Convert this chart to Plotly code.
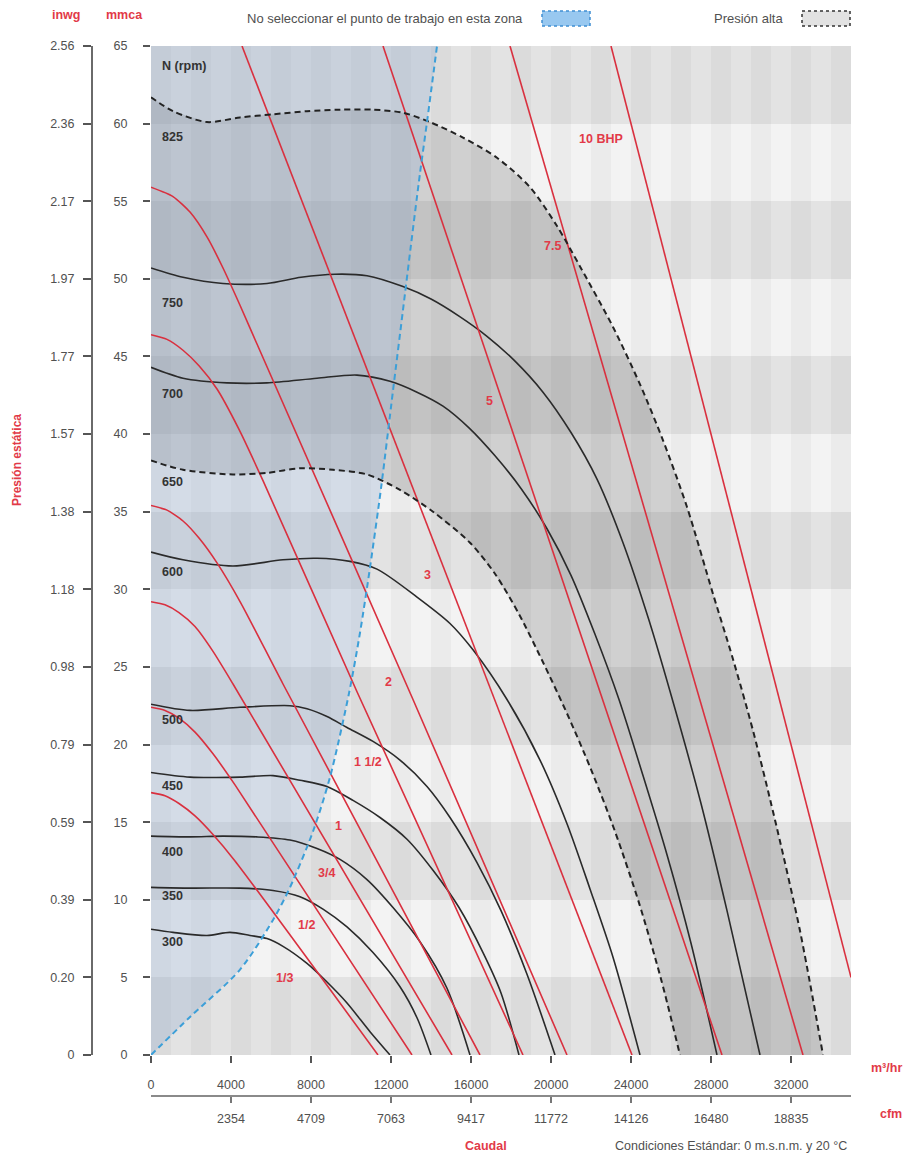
import numpy as np
import plotly.graph_objects as go

# ---------------- axis ticks ----------------
mmca_ticks = [0, 5, 10, 15, 20, 25, 30, 35, 40, 45, 50, 55, 60, 65]
inwg_labels = ["0", "0.20", "0.39", "0.59", "0.79", "0.98", "1.18", "1.38",
               "1.57", "1.77", "1.97", "2.17", "2.36", "2.56"]
flow_ticks = [0, 4000, 8000, 12000, 16000, 20000, 24000, 28000, 32000]
flow_labels = ["0", "4000", "8000", "12000", "16000", "20000", "24000", "28000", "32000"]
cfm_ticks = [4000, 8000, 12000, 16000, 20000, 24000, 28000, 32000]
cfm_labels = ["2354", "4709", "7063", "9417", "11772", "14126", "16480", "18835"]

# ---------------- fan curves: flow (m3/h) vs static pressure (mmca) ----------------
q_300 = [0, 1100, 2800, 3950, 4950, 5800, 6600, 7800, 8800, 9800, 10950, 11950]
p_300 = [8.1, 7.9, 7.7, 7.9, 7.7, 7.5, 7.0, 5.9, 4.7, 3.35, 1.5, 0]

q_350 = [0, 2000, 4450, 6100, 7450, 8600, 9800, 11100, 12450, 13300, 14000]
p_350 = [10.8, 10.75, 10.75, 10.6, 10.2, 9.4, 8.25, 6.6, 4.4, 2.4, 0]

q_400 = [0, 1950, 3600, 5300, 6950, 8300, 9450, 10800, 12100, 13450, 14800, 15950]
p_400 = [14.1, 14.05, 14.1, 14.05, 13.85, 13.3, 12.6, 11.3, 9.5, 7.3, 4.3, 0]

q_450 = [0, 1950, 4450, 6100, 7450, 8800, 10100, 11450, 12800, 14100, 15400, 16600, 17500, 18400]
p_450 = [18.2, 17.9, 17.9, 18.0, 17.7, 17.3, 16.4, 15.3, 13.9, 11.9, 9.5, 6.6, 4.0, 0]

q_500 = [0, 1950, 4450, 6950, 7800, 8800, 9800, 11100, 12450, 13800, 14950, 16300, 17500, 18800, 20200]
p_500 = [22.6, 22.2, 22.4, 22.5, 22.3, 21.8, 21.1, 20.2, 19.0, 17.3, 15.3, 12.4, 9.3, 5.2, 0]

q_600 = [0, 1600, 4100, 6600, 8300, 9950, 11300, 13300, 14950, 16100, 17800, 19450,
         20800, 21950, 23100, 24450]
p_600 = [32.4, 31.9, 31.5, 31.9, 32.0, 31.8, 31.3, 29.5, 27.8, 26.1, 22.9, 19.0,
         14.9, 10.7, 6.3, 0]

q_700 = [0, 1600, 3800, 5800, 8300, 10300, 11950, 13300, 14600, 15900, 17200, 18500,
         19800, 21000, 22200, 23400, 24600, 25800, 27000, 28300]
p_700 = [44.3, 43.6, 43.3, 43.3, 43.6, 43.8, 43.4, 42.7, 41.8, 40.4, 38.6, 36.5,
         33.9, 30.9, 27.1, 22.9, 18.0, 12.9, 7.2, 0]

q_750 = [0, 1600, 3600, 5800, 7500, 9200, 10800, 12600, 14000, 15400, 16800, 18200,
         19600, 21000, 22300, 23600, 24900, 26200, 27500, 28800, 30450]
p_750 = [50.7, 50.1, 49.7, 49.7, 50.1, 50.3, 50.2, 49.5, 48.7, 47.6, 46.3, 44.7,
         42.7, 40.1, 37.1, 33.0, 28.0, 22.3, 16.2, 9.3, 0]

# high-pressure zone limits (650 rpm below, 825 rpm above)
q_650 = [0, 1600, 4100, 5800, 7450, 9100, 10800, 12450, 14100, 15950, 17200, 18400,
         19600, 20800, 22000, 23200, 24400, 25500, 26450]
p_650 = [38.3, 37.7, 37.4, 37.5, 37.8, 37.7, 37.4, 36.4, 35.0, 33.0, 31.0, 28.4,
         25.3, 22.0, 18.4, 14.4, 9.8, 4.9, 0]

q_825 = [0, 1100, 2800, 4450, 6100, 7800, 9450, 11100, 12600, 13950, 15600, 17300,
         18950, 20300, 21450, 23100, 24450, 25600, 26800, 28100, 29100, 30100, 31300,
         32450, 33600]
p_825 = [61.7, 60.8, 60.1, 60.4, 60.6, 60.8, 60.9, 60.9, 60.7, 60.1, 59.1, 57.8,
         55.9, 53.4, 50.8, 46.9, 43.2, 39.6, 35.3, 29.7, 25.5, 20.9, 14.6, 8.0, 0]

# limit of the "do not select" zone
q_zone = [0, 1950, 4450, 6100, 6950, 8100, 8950, 9900, 10450, 10950, 11500, 12100,
          12600, 13000, 13450, 13800, 14300]
p_zone = [0, 2.45, 5.5, 8.7, 10.8, 14.4, 17.9, 23.3, 27.2, 31.4, 36.5, 42.8,
          48.0, 52.2, 56.8, 60.1, 65]

# ---------------- power lines (BHP) ----------------
bhp_labels = ["1/3", "1/2", "3/4", "1", "1 1/2", "2", "3", "5", "7.5", "10 BHP"]
q_bhp_1_3 = [0, 700, 1400, 2200, 3100, 4200, 11350]
p_bhp_1_3 = [16.9, 16.7, 16.2, 15.4, 14.2, 12.5, 0]
q_bhp_1_2 = [0, 700, 1400, 2200, 3100, 4200, 13050]
p_bhp_1_2 = [22.4, 22.2, 21.7, 20.8, 19.4, 17.4, 0]
q_bhp_3_4 = [0, 700, 1400, 2200, 3100, 4100, 15050]
p_bhp_3_4 = [29.2, 29.0, 28.5, 27.6, 26.0, 23.9, 0]
q_bhp_1 = [0, 800, 1600, 2400, 3300, 4500, 6600, 16450]
p_bhp_1 = [35.4, 35.1, 34.4, 33.3, 31.7, 29.1, 23.9, 0]
q_bhp_1_5 = [0, 800, 1600, 2400, 3300, 4400, 5600, 10300, 18600]
p_bhp_1_5 = [46.4, 46.1, 45.4, 44.4, 42.9, 40.3, 37.0, 23.4, 0]
q_bhp_2 = [0, 1100, 1950, 2800, 3600, 4450, 5300, 13100, 20800]
p_bhp_2 = [55.9, 55.3, 54.3, 52.7, 50.7, 48.3, 45.8, 22.9, 0]
q_bhp_3 = [4550, 24050]
p_bhp_3 = [65, 0]
q_bhp_5 = [11600, 28550]
p_bhp_5 = [65, 0]
q_bhp_7_5 = [17950, 32600]
p_bhp_7_5 = [65, 0]
q_bhp_10 = [23000, 35000]
p_bhp_10 = [65, 5.0]

rpm_values = [300, 350, 400, 450, 500, 600, 700, 750]
fan_curves = [(q_300, p_300), (q_350, p_350), (q_400, p_400), (q_450, p_450),
              (q_500, p_500), (q_600, p_600), (q_700, p_700), (q_750, p_750)]
bhp_lines = [(q_bhp_1_3, p_bhp_1_3), (q_bhp_1_2, p_bhp_1_2), (q_bhp_3_4, p_bhp_3_4),
             (q_bhp_1, p_bhp_1), (q_bhp_1_5, p_bhp_1_5), (q_bhp_2, p_bhp_2),
             (q_bhp_3, p_bhp_3), (q_bhp_5, p_bhp_5), (q_bhp_7_5, p_bhp_7_5),
             (q_bhp_10, p_bhp_10)]

# ---------------- page geometry ----------------
W, H = 915, 1157
ML, MR, MT, MB = 40, 64, 46, 61
PW, PH = W - ML - MR, H - MT - MB


def fx(xp):
    return (xp - ML) / PW


def fy(yp):
    return (H - MB - yp) / PH


FONT = "Liberation Sans, Arial, sans-serif"
RED_TXT = "#e23a48"
RED_LINE = "#d9303f"
GRAY_TXT = "#505050"
X_MAX, Y_MAX = 35000, 65

fig = go.Figure()

# checkered background: 1000 m3/h columns x 5 mmca rows
xc = np.arange(500, X_MAX, 1000)
yc = np.arange(2.5, Y_MAX, 5)
zc = [[2 * (k % 2 == 0) + (j % 2 == 0) for j in range(len(xc))] for k in range(len(yc))]
fig.add_trace(go.Heatmap(
    x=xc, y=yc, z=zc, zmin=0, zmax=3, showscale=False, hoverinfo="skip",
    colorscale=[[0, "rgb(243,243,243)"], [1 / 3, "rgb(235,235,235)"],
                [2 / 3, "rgb(227,227,227)"], [1, "rgb(219,219,219)"]]))

# high pressure zone (between 650 and 825 rpm)
fig.add_trace(go.Scatter(
    x=q_825 + q_650[::-1], y=p_825 + p_650[::-1], fill="toself",
    fillcolor="rgba(0,0,0,0.14)", line=dict(width=0),
    mode="lines", hoverinfo="skip", showlegend=False))

# do-not-select zone
fig.add_trace(go.Scatter(
    x=q_zone + [0], y=p_zone + [Y_MAX], fill="toself",
    fillcolor="rgba(152,176,207,0.34)", line=dict(width=0), mode="lines",
    hoverinfo="skip", showlegend=False))

# fan curves
for (q, p) in fan_curves:
    fig.add_trace(go.Scatter(x=q, y=p, mode="lines", showlegend=False, hoverinfo="skip",
                             line=dict(color="#2a2a2a", width=1.6, shape="spline", smoothing=0.8)))

# power lines
for (q, p) in bhp_lines:
    fig.add_trace(go.Scatter(x=q, y=p, mode="lines", showlegend=False, hoverinfo="skip",
                             line=dict(color=RED_LINE, width=1.6, shape="spline", smoothing=0.6)))

# dashed limits of the high pressure zone
for (q, p) in [(q_650, p_650), (q_825, p_825)]:
    fig.add_trace(go.Scatter(x=q, y=p, mode="lines", showlegend=False, hoverinfo="skip",
                             line=dict(color="#222222", width=2, dash="6px,4px",
                                       shape="spline", smoothing=0.8)))

# dashed limit of the do-not-select zone
fig.add_trace(go.Scatter(x=q_zone, y=p_zone, mode="lines", showlegend=False, hoverinfo="skip",
                         line=dict(color="#3c9fd8", width=2, dash="6px,4px",
                                   shape="spline", smoothing=0.8)))

# secondary axes carrier
fig.add_trace(go.Scatter(x=[None], y=[None], xaxis="x2", yaxis="y2",
                         showlegend=False, hoverinfo="skip"))

annotations = []


def ann(text, x, y, color=GRAY_TXT, size=12.5, bold=False, xanchor="center",
        yanchor="middle", angle=0, ref="paper"):
    t = f"<b>{text}</b>" if bold else text
    if ref == "paper":
        annotations.append(dict(text=t, x=fx(x), y=fy(y), xref="paper", yref="paper",
                                showarrow=False, xanchor=xanchor, yanchor=yanchor,
                                textangle=angle, font=dict(family=FONT, size=size, color=color)))
    else:
        annotations.append(dict(text=t, x=x, y=y, xref="x", yref="y",
                                showarrow=False, xanchor=xanchor, yanchor=yanchor,
                                textangle=angle, font=dict(family=FONT, size=size, color=color)))


# rpm labels
rpm_label_y = {825: 59.15, 750: 48.45, 700: 42.6, 650: 36.9, 600: 31.1,
               500: 21.6, 450: 17.3, 400: 13.1, 350: 10.25, 300: 7.3}
for rpm, yv in rpm_label_y.items():
    ann(str(rpm), 450, yv, color="#333333", size=12.5, bold=True, xanchor="left", ref="data")
ann("N (rpm)", 450, 63.7, color="#333333", size=12.5, bold=True, xanchor="left", ref="data")

# BHP labels
bhp_label_pos = [(6650, 4.95), (7750, 8.4), (8750, 11.7), (9350, 14.75), (10850, 18.9),
                 (11850, 24.0), (13800, 30.9), (16900, 42.1), (20050, 52.1), (22500, 59.0)]
for txt, (qx, py) in zip(bhp_labels, bhp_label_pos):
    ann(txt, qx, py, color=RED_TXT, size=12.5, bold=True, ref="data")

# headers and titles
ann("inwg", 66, 15, color=RED_TXT, bold=True)
ann("mmca", 124, 15, color=RED_TXT, bold=True)
ann("Presión estática", 17, 460, color=RED_TXT, size=12, bold=True, angle=-90)
ann("No seleccionar el punto de trabajo en esta zona", 525, 18, size=13, xanchor="right")
ann("Presión alta", 785, 18, size=13, xanchor="right")
ann("m³/hr", 887, 1068, color=RED_TXT, bold=True)
ann("cfm", 891, 1114, color=RED_TXT, bold=True)
ann("Caudal", 486, 1146, color=RED_TXT, bold=True)
ann("Condiciones Estándar: 0 m.s.n.m. y 20 °C", 849, 1146, size=12.5, xanchor="right")

shapes = [
    dict(type="rect", xref="paper", yref="paper", x0=fx(542), x1=fx(590), y0=fy(26), y1=fy(11),
         fillcolor="#98c8f0", line=dict(color="#3f8ed2", width=1.5, dash="dot")),
    dict(type="rect", xref="paper", yref="paper", x0=fx(802), x1=fx(850), y0=fy(26), y1=fy(11),
         fillcolor="#e2e2e2", line=dict(color="#333333", width=1.5, dash="dot")),
]

tickfont = dict(family=FONT, size=12.5, color=GRAY_TXT)
fig.update_layout(
    width=W, height=H, margin=dict(l=ML, r=MR, t=MT, b=MB),
    paper_bgcolor="white", plot_bgcolor="white", showlegend=False,
    annotations=annotations, shapes=shapes,
    xaxis=dict(domain=[fx(151), 1], range=[0, X_MAX], tickvals=flow_ticks,
               ticktext=flow_labels,
               ticks="outside", ticklen=7, tickwidth=1.5, tickcolor="#555",
               showgrid=False, zeroline=False, showline=False, tickfont=tickfont,
               ticklabelstandoff=11, fixedrange=True),
    yaxis=dict(domain=[fy(1055), 1], range=[0, Y_MAX], tickvals=mmca_ticks,
               ticks="outside", ticklen=7, tickwidth=1.5, tickcolor="#555",
               showgrid=False, zeroline=False, showline=False, tickfont=tickfont,
               ticklabelstandoff=13, fixedrange=True),
    xaxis2=dict(overlaying="x", anchor="free", position=0, side="bottom",
                range=[0, X_MAX], tickvals=cfm_ticks, ticktext=cfm_labels,
                ticks="outside", ticklen=6, tickwidth=1.5, tickcolor="#777",
                showline=True, linecolor="#8a8a8a", linewidth=2,
                showgrid=False, zeroline=False, tickfont=tickfont,
                ticklabelstandoff=5, fixedrange=True),
    yaxis2=dict(overlaying="y", anchor="free", position=fx(92), side="left",
                range=[0, Y_MAX], tickvals=mmca_ticks, ticktext=inwg_labels,
                ticks="outside", ticklen=8, tickwidth=1.5, tickcolor="#555",
                showline=True, linecolor="#6a6a6a", linewidth=2,
                showgrid=False, zeroline=False, tickfont=tickfont,
                ticklabelstandoff=6, fixedrange=True),
)

fig.write_html("out.html")
